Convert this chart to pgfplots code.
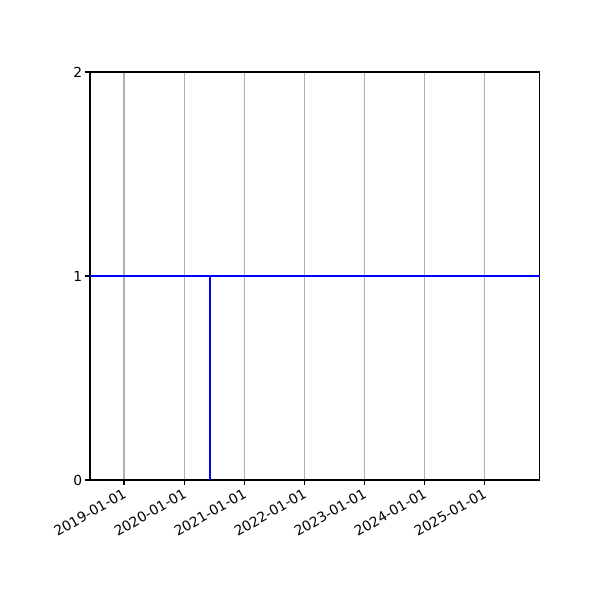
\documentclass[border=0pt]{standalone}
\usepackage{fontspec}
\setmainfont{DejaVu Sans}
\usepackage{pgfplots}
\pgfplotsset{compat=1.18}
\begin{document}
\begin{tikzpicture}
\useasboundingbox (-65.04pt,-86.72pt) rectangle (368.6pt,346.9pt);
\begin{axis}[
  at={(0,0)}, anchor=south west,
  scale only axis,
  width=325.2pt, height=294.9pt,
  xmin=2018.433, xmax=2025.928,
  ymin=0, ymax=2,
  xtick={2019,2020,2021,2022,2023,2024,2025},
  xticklabels={2019-01-01,2020-01-01,2021-01-01,2022-01-01,2023-01-01,2024-01-01,2025-01-01},
  ytick={0,1,2},
  xmajorgrids,
  grid style={color=black!31, line width=0.8pt},
  axis line style={line width=0.8pt},
  tick style={color=black, line width=0.8pt},
  tick align=outside,
  major tick length=3.5pt,
  xtick pos=bottom, ytick pos=left,
  x tick label style={rotate=30, anchor=north east, font=\fontsize{10pt}{12pt}\selectfont, inner sep=1pt, xshift=-1pt},
  y tick label style={font=\fontsize{10pt}{12pt}\selectfont, inner sep=2pt},
  /pgf/number format/assume math mode=true,
  clip=true,
]
\addplot[blue, line width=2pt] coordinates {(2018.433,1) (2025.928,1)};
\addplot[blue, line width=2pt] coordinates {(2020.433,0) (2020.433,1)};
\end{axis}
\end{tikzpicture}
\end{document}
